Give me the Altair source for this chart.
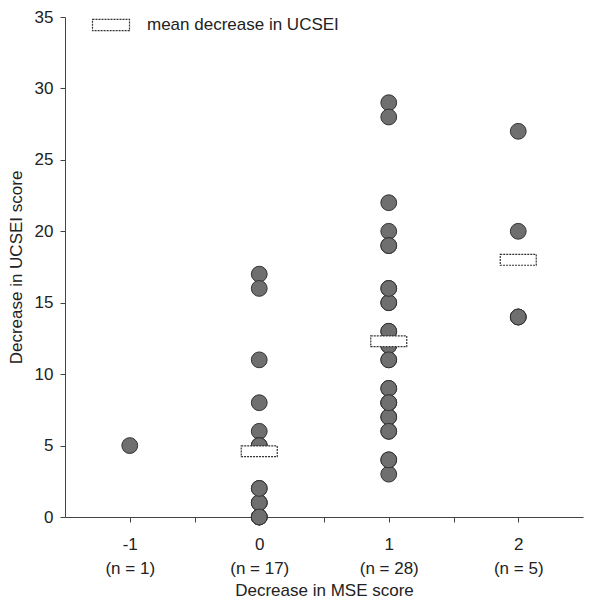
import altair as alt
import pandas as pd

# ---- data ----
mse_levels = [-1, 0, 1, 2]
n_counts = [1, 17, 28, 5]
ucsei_m1 = [5]
ucsei_0 = [17, 16, 11, 8, 6, 5, 2, 1, 0, 0, 0, 1, 1, 2, 5, 5, 0]
ucsei_1 = [29, 28, 22, 20, 19, 16, 15, 13, 11, 9, 8, 7, 6, 4, 3,
           12, 12, 13, 11, 9, 8, 7, 6, 15, 16, 19, 8, 4]
ucsei_2 = [27, 20, 14, 14, 14]
mean_levels = [0, 1, 2]
mean_values = [4.6, 12.3, 18.0]
y_ticks = [0, 5, 10, 15, 20, 25, 30, 35]
x_ticks = [-1, -0.5, 0, 0.5, 1, 1.5, 2]
legend_label = "mean decrease in UCSEI"

rows = []
for lvl, vals in zip(mse_levels, [ucsei_m1, ucsei_0, ucsei_1, ucsei_2]):
    for v in vals:
        rows.append({"mse": lvl, "ucsei": v})
points_df = pd.DataFrame(rows)
means_df = pd.DataFrame({"mse": mean_levels, "ucsei": mean_values})
legend_df = pd.DataFrame({"label": [legend_label]})

num_expr = " : ".join(
    f"datum.value == {lvl} ? '{lvl}'" for lvl in mse_levels
) + " : ''"
n_expr = " : ".join(
    f"datum.value == {lvl} ? '(n = {n})'" for lvl, n in zip(mse_levels, n_counts)
) + " : ''"

FONT = "Liberation Sans"
FS = 17
RECT = "M-1,-0.3L1,-0.3L1,0.3L-1,0.3Z"
x_scale = alt.Scale(domain=[-1.5, 2.5], nice=False, zero=False)
y_scale = alt.Scale(domain=[0, 35], nice=False)

x_axis_num = alt.Axis(
    values=x_ticks, labelExpr=num_expr, title=None, orient="bottom",
    grid=False, tickSize=5, labelPadding=14, labelFontSize=FS,
    labelBaseline="top",
)
x_axis_n = alt.Axis(
    values=mse_levels, labelExpr=n_expr, title="Decrease in MSE score",
    orient="bottom", grid=False, domain=False, ticks=False, tickSize=0,
    labelPadding=43, labelFontSize=FS, titleFontSize=FS, titlePadding=6,
    labelBaseline="top",
)
y_enc = alt.Y(
    "ucsei:Q", scale=y_scale,
    axis=alt.Axis(
        values=y_ticks, title="Decrease in UCSEI score", grid=False,
        tickSize=5, labelPadding=7, titlePadding=9,
        labelFontSize=FS, titleFontSize=FS,
    ),
)

points = alt.Chart(points_df).mark_point(
    shape="circle", filled=True, fill="#6f6f6f", stroke="#333333",
    strokeWidth=1, size=250, opacity=1,
).encode(x=alt.X("mse:Q", scale=x_scale, axis=x_axis_num), y=y_enc)

means = alt.Chart(means_df).mark_point(
    shape=RECT, filled=True, fill="white", fillOpacity=1, stroke="#333333",
    strokeWidth=1.2, strokeDash=[2, 1], strokeOpacity=1, size=1296, opacity=1,
).encode(x=alt.X("mse:Q", scale=x_scale, axis=x_axis_n), y=alt.Y("ucsei:Q", scale=y_scale))

legend_box = alt.Chart(legend_df).mark_point(
    shape=RECT, filled=True, fill="white", fillOpacity=1, stroke="#333333",
    strokeWidth=1.2, strokeDash=[2, 1], strokeOpacity=1, size=1369, opacity=1,
).encode(x=alt.value(46), y=alt.value(8))

legend_text = alt.Chart(legend_df).mark_text(
    align="left", baseline="middle", fontSize=FS, font=FONT, color="#222222",
).encode(x=alt.value(82), y=alt.value(8), text="label:N")

chart = alt.layer(points, means, legend_box, legend_text).resolve_axis(
    x="independent"
).properties(
    width=518, height=500,
    autosize=alt.AutoSizeParams(type="none"),
    padding={"left": 57, "top": 9, "right": 20, "bottom": 85},
).configure_view(stroke=None).configure_axis(
    labelFont=FONT, titleFont=FONT, labelColor="#222222", titleColor="#222222",
    domainColor="#444444", tickColor="#444444", titleFontWeight="normal",
)

chart.save("out.html", embed_options={"renderer": "svg", "actions": False})
